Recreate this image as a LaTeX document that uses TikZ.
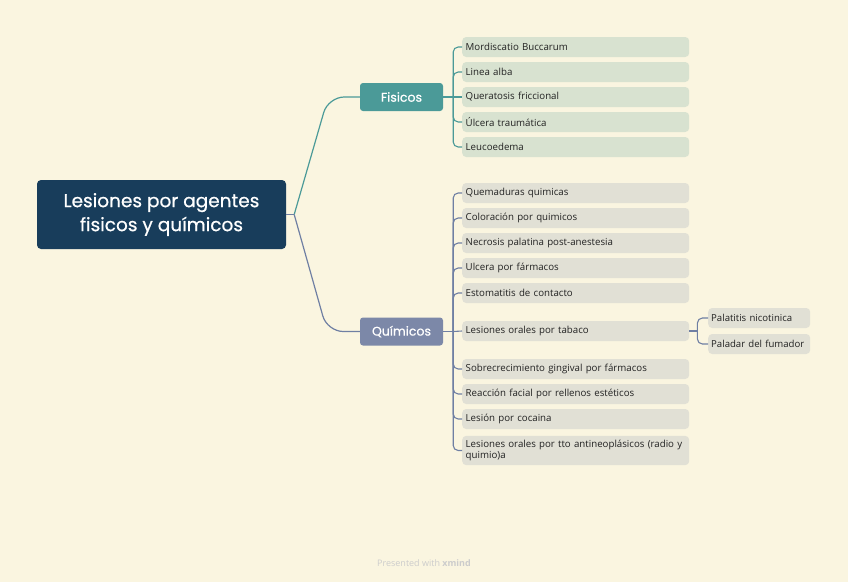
\documentclass[tikz,border=0pt]{standalone}
\usepackage{fontspec}
\setmainfont{Open Sans}
\newfontfamily\headfont[FakeBold=0.6]{Poppins}
\usepackage{tikz}
\usetikzlibrary{calc}
\definecolor{xmBack}{HTML}{FAF5E0}
\definecolor{xmRoot}{HTML}{183D5B}
\definecolor{xmTeal}{HTML}{4B9A98}
\definecolor{xmSlate}{HTML}{7C88A8}
\definecolor{xmSlateLine}{HTML}{6F7FA3}
\definecolor{xmGreen}{HTML}{D8E2D0}
\definecolor{xmGray}{HTML}{E1E0D5}
\definecolor{xmText}{HTML}{222222}

\begin{document}
\hyphenpenalty=10000
\begin{tikzpicture}[
    x=1pt, y=-1pt,
    font=\fontsize{9.7}{11.5}\selectfont,
    root/.style={fill=xmRoot, text=white, rounded corners=4pt, minimum width=249pt, minimum height=69pt, align=center, font=\headfont\fontsize{18.5}{24}\selectfont},
    branch/.style={fill=#1, text=white, rounded corners=3pt, minimum width=83pt, minimum height=28pt, font=\headfont\fontsize{12.5}{14}\selectfont},
    leaf/.style={fill=#1, text=xmText, rounded corners=4pt, anchor=west, text width=220pt, inner xsep=3.5pt, inner ysep=4pt, minimum height=20pt, align=left},
    subleaf/.style={fill=xmGray, text=xmText, rounded corners=4pt, anchor=west, text width=96pt, inner xsep=3pt, inner ysep=4pt, minimum height=20pt, align=left, font=\fontsize{9.6}{11}\selectfont},
    link/.style={draw=#1, line width=1.2pt},
    twig/.style={draw=#1, line width=1.1pt, rounded corners=5pt}
]
\fill[xmBack] (0,0) rectangle (848,582);
\useasboundingbox (0,0) rectangle (848,582);

\node[root] (root) at (161.5,214.5) {Lesiones por agentes\\fisicos y químicos};

\node[branch=xmTeal] (fis) at (401.5,97) {Fisicos};
\node[branch=xmSlate] (qui) at (401.5,331.5) {Químicos};

% fisicos
\node[leaf=xmGreen] (f1) at (462,47) {Mordiscatio Buccarum};
\node[leaf=xmGreen] (f2) at (462,72) {Linea alba};
\node[leaf=xmGreen] (f3) at (462,97) {Queratosis friccional};
\node[leaf=xmGreen] (f4) at (462,122) {Úlcera traumática};
\node[leaf=xmGreen] (f5) at (462,147) {Leucoedema};

% quimicos
\node[leaf=xmGray] (q1) at (462,193) {Quemaduras quimicas};
\node[leaf=xmGray] (q2) at (462,218) {Coloración por quimicos};
\node[leaf=xmGray] (q3) at (462,243) {Necrosis palatina post-anestesia};
\node[leaf=xmGray] (q4) at (462,268) {Ulcera por fármacos};
\node[leaf=xmGray] (q5) at (462,293) {Estomatitis de contacto};
\node[leaf=xmGray] (q6) at (462,331) {Lesiones orales por tabaco};
\node[leaf=xmGray] (q7) at (462,369) {Sobrecrecimiento gingival por fármacos};
\node[leaf=xmGray] (q8) at (462,394) {Reacción facial por rellenos estéticos};
\node[leaf=xmGray] (q9) at (462,419) {Lesión por cocaina};
\node[leaf=xmGray] (q10) at (462,450.5) {Lesiones orales por tto antineoplásicos (radio y\\quimio)a};

\node[subleaf] (t1) at (708,318) {Palatitis nicotinica};
\node[subleaf] (t2) at (708,344) {Paladar del fumador};

\node[text=black!20, font=\fontsize{9}{10}\selectfont] (credit) at (424,563) {Presented with \textbf{xmind}};

% root to branches
\coordinate (fork) at ($(root.east)+(8,0)$);
\draw[link=xmSlateLine] (root.east) -- (fork);
\draw[link=xmTeal, rounded corners=16pt] (fork) -- ([xshift=34pt]fork |- fis.west) -- (fis.west);
\draw[link=xmSlateLine, rounded corners=16pt] (fork) -- ([xshift=33pt]fork |- qui.west) -- (qui.west);

% branch spines
\coordinate (fspine) at ($(fis.east)+(10,0)$);
\draw[link=xmTeal] (fis.east) -- (fspine);
\draw[twig=xmTeal] (fspine) |- (f1.west);
\draw[twig=xmTeal] (fspine) |- (f2.west);
\draw[twig=xmTeal] (fspine) -- (f3.west);
\draw[twig=xmTeal] (fspine) |- (f4.west);
\draw[twig=xmTeal] (fspine) |- (f5.west);

\coordinate (qspine) at ($(qui.east)+(10,0)$);
\draw[link=xmSlateLine] (qui.east) -- (qspine);
\draw[twig=xmSlateLine] (qspine) |- (q1.west);
\draw[twig=xmSlateLine] (qspine) |- (q2.west);
\draw[twig=xmSlateLine] (qspine) |- (q3.west);
\draw[twig=xmSlateLine] (qspine) |- (q4.west);
\draw[twig=xmSlateLine] (qspine) |- (q5.west);
\draw[twig=xmSlateLine] (qspine) -- (q6.west);
\draw[twig=xmSlateLine] (qspine) |- (q7.west);
\draw[twig=xmSlateLine] (qspine) |- (q8.west);
\draw[twig=xmSlateLine] (qspine) |- (q9.west);
\draw[twig=xmSlateLine] (qspine) |- (q10.west);

\coordinate (tspine) at ($(q6.east)+(8,0)$);
\draw[link=xmSlateLine] (q6.east) -- (tspine);
\draw[twig=xmSlateLine] (tspine) |- (t1.west);
\draw[twig=xmSlateLine] (tspine) |- (t2.west);
\end{tikzpicture}
\end{document}
